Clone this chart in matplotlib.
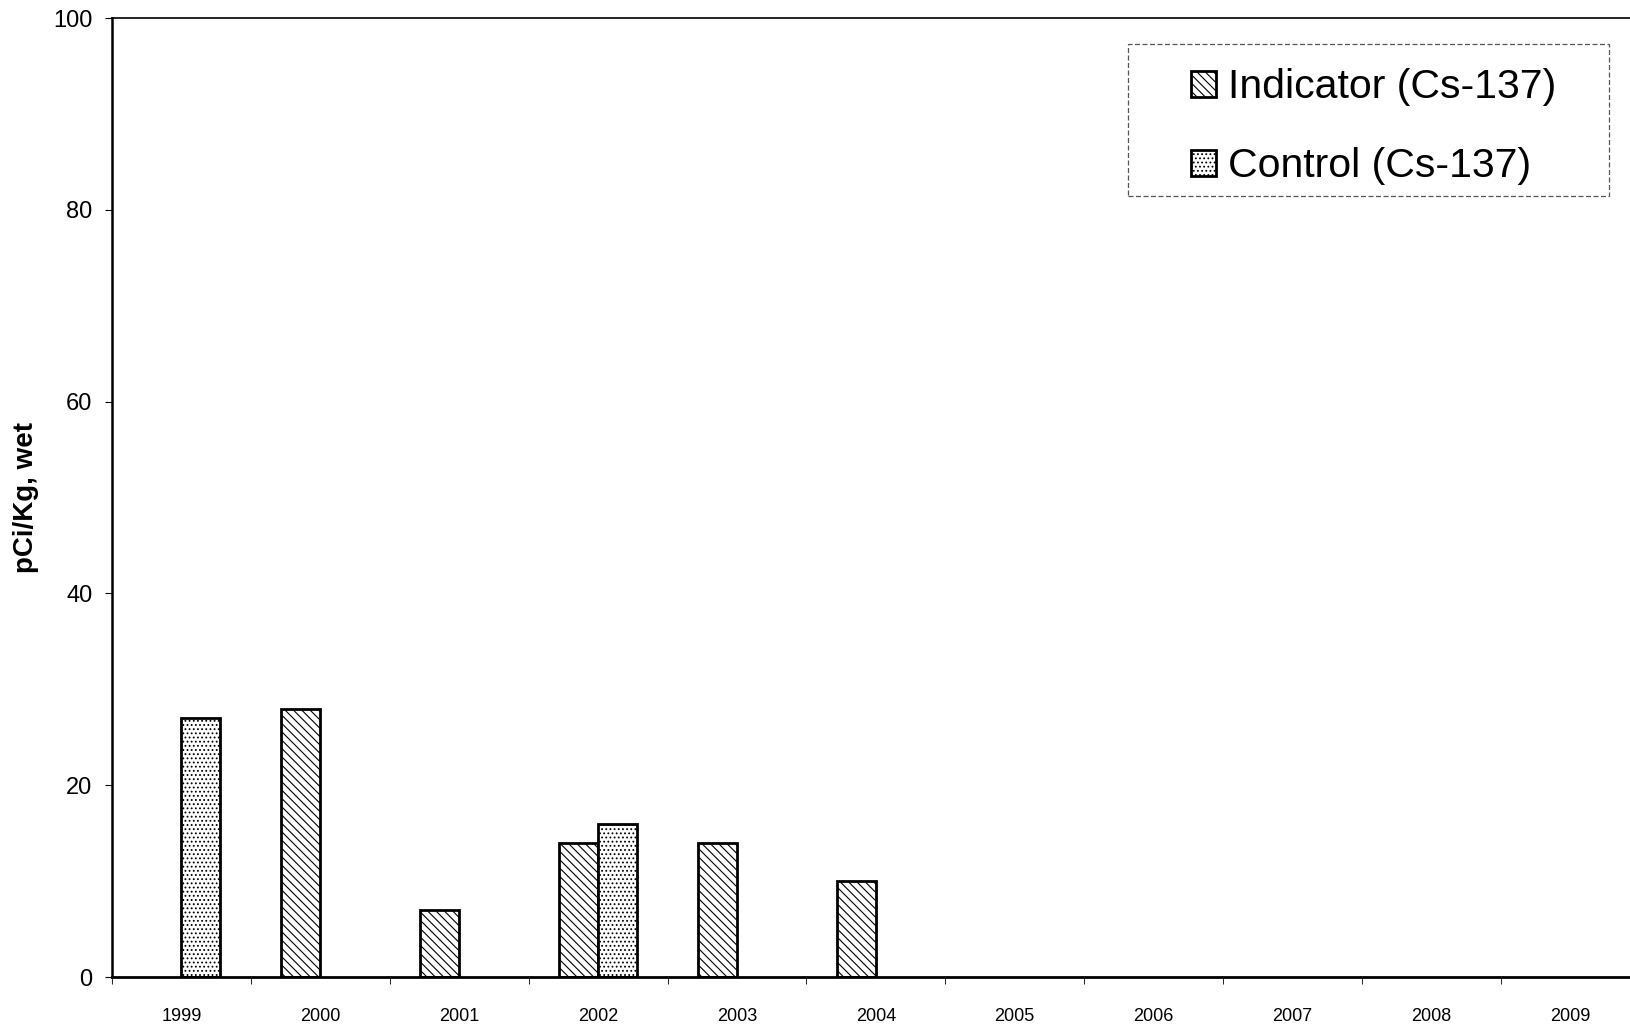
import numpy as np
import matplotlib.pyplot as plt
from matplotlib.ticker import FixedLocator
from matplotlib.patches import Rectangle

years = ["1999", "2000", "2001", "2002", "2003", "2004", "2005", "2006", "2007", "2008", "2009"]
indicator = [np.nan, 28, 7, 14, 14, 10, np.nan, np.nan, np.nan, np.nan, np.nan]
control = [27, np.nan, np.nan, 16, np.nan, np.nan, np.nan, np.nan, np.nan, np.nan, np.nan]

plt.rcParams['font.family'] = ['Liberation Sans', 'DejaVu Sans']
plt.rcParams['hatch.linewidth'] = 0.8

fig = plt.figure(figsize=(16.3, 10.29), dpi=100)
ax = fig.add_axes([0.0687, 0.0505, 0.9313, 0.932])

x = np.arange(len(years))
w = 0.28
ax.bar(x - w / 2, indicator, w, facecolor='white', edgecolor='black', linewidth=2,
       hatch='\\\\\\\\', label='Indicator (Cs-137)')
ax.bar(x + w / 2, control, w, facecolor='white', edgecolor='black', linewidth=2,
       hatch='....', label='Control (Cs-137)')

ax.set_ylim(0, 100)
ax.set_xlim(-0.5, 10.43)
ax.set_yticks([0, 20, 40, 60, 80, 100])
ax.set_xticks(x)
ax.set_xticklabels(years, fontsize=13)
ax.xaxis.set_minor_locator(FixedLocator(np.arange(-0.5, 11, 1)))
ax.tick_params(axis='x', which='major', length=0, pad=22)
ax.tick_params(axis='x', which='minor', length=5, direction='out')
ax.tick_params(axis='y', labelsize=17, length=5, direction='out', pad=9)
ax.set_ylabel('pCi/Kg, wet', fontsize=20, fontweight='bold', labelpad=10)

ax.spines['right'].set_visible(False)
ax.spines['left'].set_linewidth(1.8)
ax.spines['bottom'].set_linewidth(2)
ax.spines['top'].set_linewidth(1.2)

# legend box drawn separately so the padding can be wider than tall
box = Rectangle((0.669, 0.814), 0.317, 0.159, transform=ax.transAxes, fill=False,
                edgecolor='#555555', linewidth=0.9, linestyle=(0, (4, 2)), zorder=5)
ax.add_patch(box)
leg = ax.legend(loc='upper left', bbox_to_anchor=(0.697, 0.969), fontsize=29.5,
                frameon=False, handlelength=0.61, handleheight=0.61,
                handletextpad=0.3, borderpad=0, labelspacing=1.0)

fig.savefig('out.png', dpi=100)
